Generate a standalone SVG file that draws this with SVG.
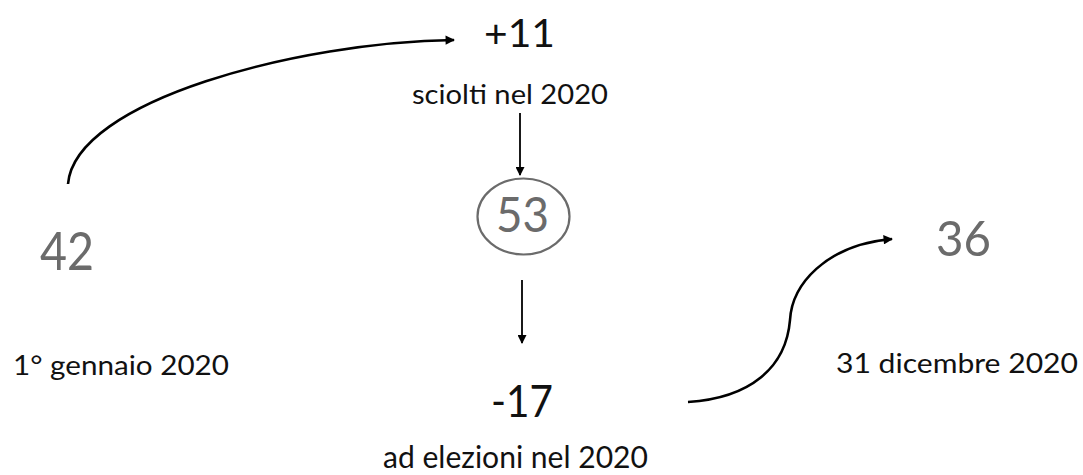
<svg xmlns="http://www.w3.org/2000/svg" width="1083" height="475" viewBox="0 0 1083 475">
<style>
text{font-family:Lato,"Open Sans","Liberation Sans",sans-serif;}
.blk{fill:#111;}
.gry{fill:#6b6b6b;}
.con{fill:none;stroke:#000;stroke-width:2.6;marker-end:url(#ah);}
.sv{fill:none;stroke:#000;stroke-width:1.8;marker-end:url(#ah2);}
</style>
<defs>
<marker id="ah" viewBox="0 0 10 10" refX="9" refY="5" markerWidth="4.2" markerHeight="3.6" orient="auto" markerUnits="strokeWidth">
<path d="M0,0 L10,5 L0,10 z" fill="#000"/>
</marker>
<marker id="ah2" viewBox="0 0 10 10" refX="9" refY="5" markerWidth="5.5" markerHeight="5" orient="auto" markerUnits="strokeWidth">
<path d="M0,0 L10,5 L0,10 z" fill="#000"/>
</marker>
</defs>
<rect width="1083" height="475" fill="#fff"/>
<g id="connectors">
<path class="con" d="M68,184 C75,100 300,42 454,40"/>
<path class="sv" d="M520,113 L520,175"/>
<path class="sv" d="M522,280 L522,343"/>
<path class="con" d="M688,402 C750,398 786,368 790,320 C792,285 825,245 892,239"/>
</g>
<g id="n42"><text class="gry" x="40" y="270" font-size="52" textLength="54" lengthAdjust="spacingAndGlyphs">42</text></g>
<g id="n1gen"><text class="blk" x="13" y="375" font-size="26" textLength="216" lengthAdjust="spacingAndGlyphs">1° gennaio 2020</text></g>
<g id="n11"><text class="blk" x="484" y="47" font-size="38" textLength="71" lengthAdjust="spacingAndGlyphs">+11</text></g>
<g id="nsciolti"><text class="blk" x="412" y="104" font-size="26" textLength="196" lengthAdjust="spacingAndGlyphs">sciolti nel 2020</text></g>
<g id="n53">
<ellipse cx="523.5" cy="216.5" rx="46" ry="38" fill="none" stroke="#6b6b6b" stroke-width="2.2"/>
<text class="gry" x="496" y="232" font-size="49" textLength="53" lengthAdjust="spacingAndGlyphs">53</text>
</g>
<g id="n17"><text class="blk" x="491" y="417" font-size="45" textLength="62" lengthAdjust="spacingAndGlyphs">-17</text></g>
<g id="nelezioni"><text class="blk" x="383" y="468" font-size="31" textLength="265" lengthAdjust="spacingAndGlyphs">ad elezioni nel 2020</text></g>
<g id="n36"><text class="gry" x="936" y="256" font-size="49" textLength="55" lengthAdjust="spacingAndGlyphs">36</text></g>
<g id="ndic"><text class="blk" x="836" y="373" font-size="27" textLength="242" lengthAdjust="spacingAndGlyphs">31 dicembre 2020</text></g>
</svg>
